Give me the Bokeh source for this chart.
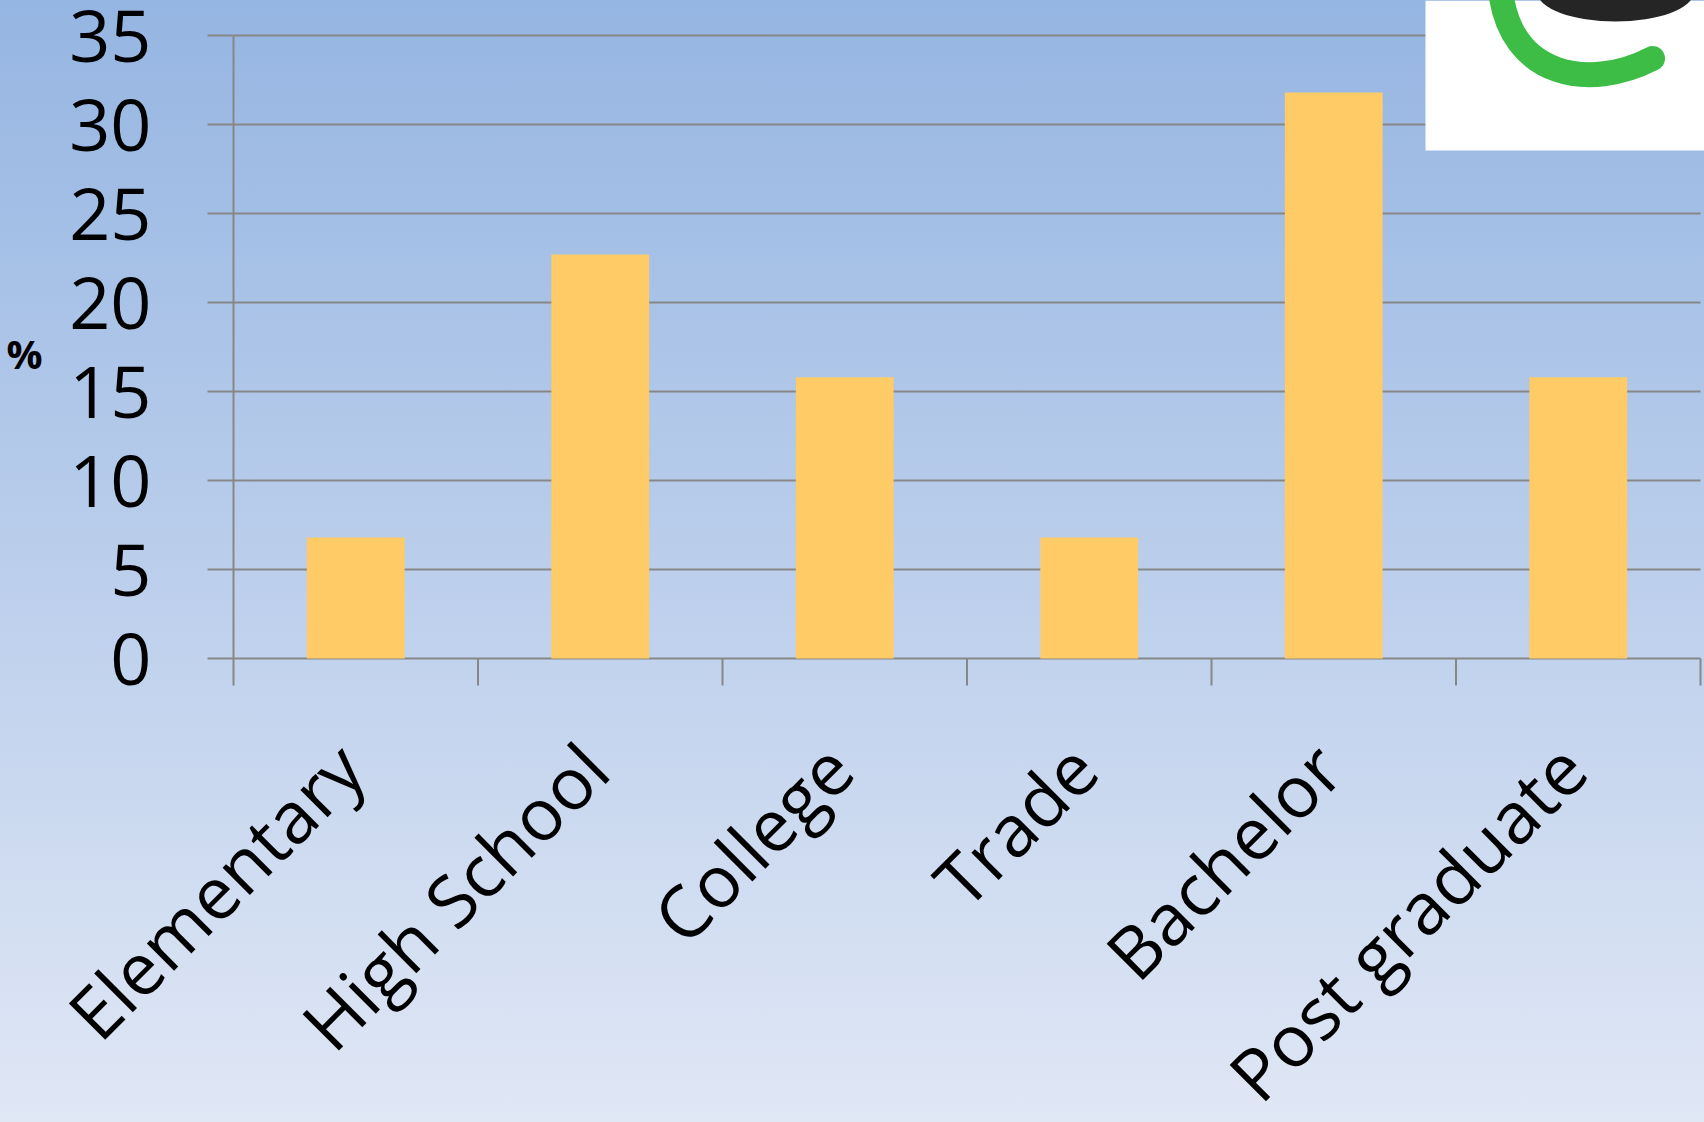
import math
from bokeh.plotting import figure
from bokeh.models import Range1d, FixedTicker, BoxAnnotation, LabelSet, Label, ColumnDataSource
from bokeh.core.properties import value
from bokeh.embed import file_html
from bokeh.resources import INLINE

categories = ["Elementary", "High School", "College", "Trade", "Bachelor", "Post graduate"]
values = [6.8, 22.7, 15.8, 6.8, 31.8, 15.8]
y_ticks = [0, 5, 10, 15, 20, 25, 30, 35]
y_label = "%"

n = len(categories)
x_pos = [i + 0.5 for i in range(n)]
boundaries = list(range(n + 1))

GRAY = "#878787"
FONT = "Open Sans"

# page layout (pixels): the plot frame covers the whole page, the value axis sits at x = AXIS_X
W, H = 1704, 1122
AXIS_X, RIGHT_X, TOP_PX, ZERO_PX = 233, 1700, 35, 658
y_max = y_ticks[-1]
px_per_unit = (ZERO_PX - TOP_PX) / y_max
px_per_cat = (RIGHT_X - AXIS_X) / n
x_lo, x_hi = -AXIS_X / px_per_cat, n + (W - RIGHT_X) / px_per_cat
y_lo, y_hi = -(H - ZERO_PX) / px_per_unit, y_max + TOP_PX / px_per_unit
tick_len = 27 / px_per_unit

p = figure(width=W, height=H, x_range=Range1d(x_lo, x_hi), y_range=Range1d(y_lo, y_hi),
           output_backend="svg", toolbar_location=None, x_axis_location=None,
           min_border_left=0, min_border_right=0, min_border_top=0, min_border_bottom=0)

p.background_fill_color = None
p.border_fill_color = None
p.outline_line_color = None
p.styles = {"background": "linear-gradient(180deg, #95B5E2 0%, #E0E7F5 100%)"}

# horizontal grid lines (the one at 0 is the category axis line)
p.segment(x0=[0] * len(y_ticks), y0=y_ticks, x1=[n] * len(y_ticks), y1=y_ticks,
          line_color=GRAY, line_width=2)
# category separator ticks below the axis line
p.segment(x0=boundaries, y0=[0] * (n + 1), x1=boundaries, y1=[-tick_len] * (n + 1),
          line_color=GRAY, line_width=2)

p.vbar(x=x_pos, top=values, width=0.4, fill_color="#FECB67", line_color=None)

# category labels, rotated 45 degrees
src = ColumnDataSource(dict(x=x_pos, y=[0] * n, text=categories))
cat_labels = LabelSet(x="x", y="y", text="text", source=src, angle=math.pi / 4,
                      text_align="right", text_baseline="middle",
                      x_offset=-6, y_offset=-97,
                      text_font=value(FONT), text_font_size="72px", text_color="black")
p.add_layout(cat_labels)

# value axis
ya = p.yaxis[0]
ya.fixed_location = 0
ya.bounds = (0, y_max)
ya.ticker = FixedTicker(ticks=y_ticks, minor_ticks=[])
ya.major_tick_out = 26
ya.major_tick_in = 0
ya.major_tick_line_color = GRAY
ya.major_tick_line_width = 2
ya.axis_line_color = GRAY
ya.axis_line_width = 2
ya.major_label_text_font = FONT
ya.major_label_text_font_size = "72px"
ya.major_label_text_color = "black"
ya.major_label_standoff = 56

p.add_layout(Label(x=0, y=y_max / 2, text=y_label, x_offset=-209, y_offset=-6,
                   text_align="center", text_baseline="middle", text_font=FONT,
                   text_font_style="bold", text_font_size="40px", text_color="black"))

p.xgrid.visible = False
p.ygrid.visible = False

# logo panel in the top-right corner (pixel coordinates)
p.extra_x_ranges = {"px": Range1d(0, W)}
p.extra_y_ranges = {"px": Range1d(H, 0)}
p.add_layout(BoxAnnotation(left=1425, right=W, top=0, bottom=150,
                           x_range_name="px", y_range_name="px",
                           fill_color="white", fill_alpha=1.0, line_color=None, level="annotation"))
p.ellipse(x=[1615], y=[-8], width=156, height=58, x_range_name="px", y_range_name="px",
          fill_color="#252525", line_color=None, level="overlay")
p.bezier(x0=[1500], y0=[-10], x1=[1652], y1=[58], cx0=[1510], cy0=[78], cx1=[1590], cy1=[90],
         x_range_name="px", y_range_name="px", line_color="#3dbd46", line_width=25,
         line_cap="round", level="overlay")

open("out.html", "w").write(file_html(p, INLINE))
